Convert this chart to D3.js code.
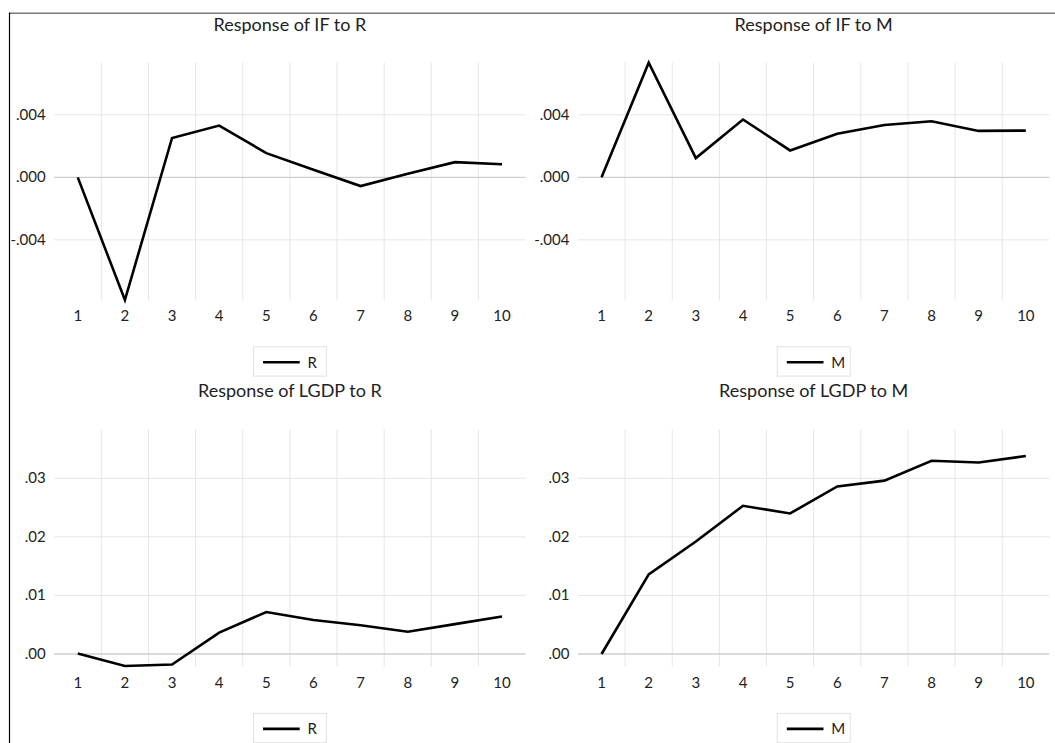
<!DOCTYPE html>
<html>
<head>
<meta charset="utf-8">
<script src="https://cdn.jsdelivr.net/npm/d3@7"></script>
<style>
  html, body { margin: 0; padding: 0; background: #fff; }
  svg { display: block; }
  text { font-family: Lato, "Open Sans", sans-serif; fill: #222; }
</style>
</head>
<body>
<svg id="chart" width="1055" height="743"></svg>
<script>
// ---- data ----
const periods = [1, 2, 3, 4, 5, 6, 7, 8, 9, 10];
const ifToR   = [0, -0.00785, 0.00252, 0.00331, 0.00155, 0.00048, -0.00056, 0.00023, 0.00097, 0.00084];
const ifToM   = [0, 0.00733, 0.00123, 0.00370, 0.00172, 0.00279, 0.00335, 0.00359, 0.00297, 0.00299];
const lgdpToR = [0.0001, -0.00205, -0.0018, 0.00364, 0.00717, 0.0058, 0.0049, 0.0038, 0.0051, 0.0064];
const lgdpToM = [0, 0.0136, 0.0192, 0.0253, 0.0240, 0.0286, 0.0296, 0.0330, 0.0327, 0.0338];
const ifTicks = [-0.004, 0, 0.004];
const lgdpTicks = [0, 0.01, 0.02, 0.03];
const ifDomain = [-0.007853, 0.007334];
const lgdpDomain = [-0.002168, 0.03836];
const titles = ["Response of IF to R", "Response of IF to M", "Response of LGDP to R", "Response of LGDP to M"];
const seriesNames = ["R", "M", "R", "M"];

const panels = [
  { title: titles[0], name: seriesNames[0], values: ifToR,   domain: ifDomain,   ticks: ifTicks,   fmt: ".3f", col: 0, row: 0 },
  { title: titles[1], name: seriesNames[1], values: ifToM,   domain: ifDomain,   ticks: ifTicks,   fmt: ".3f", col: 1, row: 0 },
  { title: titles[2], name: seriesNames[2], values: lgdpToR, domain: lgdpDomain, ticks: lgdpTicks, fmt: ".2f", col: 0, row: 1 },
  { title: titles[3], name: seriesNames[3], values: lgdpToM, domain: lgdpDomain, ticks: lgdpTicks, fmt: ".2f", col: 1, row: 1 }
];

// ---- layout ----
const colLeft = [54.2, 578];
const plotW = 471.4;
const rowTop = [62.7, 429.3];
const plotH = 237.4;

const svg = d3.select("#chart");
const locale = d3.formatLocale({ decimal: ".", thousands: ",", grouping: [3], currency: ["", ""], minus: "-" });

// outer frame
svg.append("line").attr("x1", 9).attr("x2", 1055).attr("y1", 13.2).attr("y2", 13.2)
  .attr("stroke", "#7a7a7a").attr("stroke-width", 1.6);
svg.append("line").attr("x1", 9.5).attr("x2", 9.5).attr("y1", 12.5).attr("y2", 743)
  .attr("stroke", "#000").attr("stroke-width", 1.2);

panels.forEach(p => {
  const left = colLeft[p.col], top = rowTop[p.row];
  const right = left + plotW, bottom = top + plotH;
  const g = svg.append("g");

  const x = d3.scaleBand().domain(periods).range([left, right]);
  const y = d3.scaleLinear().domain(p.domain).range([bottom, top]);
  const cx = d => x(d) + x.bandwidth() / 2;

  // vertical gridlines between categories
  g.selectAll(".vg").data(periods.slice(1)).join("line")
    .attr("x1", d => x(d)).attr("x2", d => x(d))
    .attr("y1", top).attr("y2", bottom)
    .attr("stroke", "#e6e6e6").attr("stroke-width", 1);

  // horizontal gridlines
  g.selectAll(".hg").data(p.ticks).join("line")
    .attr("x1", left).attr("x2", right)
    .attr("y1", d => y(d)).attr("y2", d => y(d))
    .attr("stroke", d => d === 0 ? "#cfcfcf" : "#e6e6e6").attr("stroke-width", d => d === 0 ? 1.3 : 1);

  // y tick labels
  const f = locale.format(p.fmt);
  const lab = d => f(d).replace(/^(-?)0\./, "$1.");
  g.selectAll(".yl").data(p.ticks).join("text")
    .attr("x", left - 8.6).attr("y", d => y(d) + 5)
    .attr("text-anchor", "end").attr("font-size", 15)
    .text(lab);

  // x tick labels
  g.selectAll(".xl").data(periods).join("text")
    .attr("x", cx).attr("y", bottom + 21.3)
    .attr("text-anchor", "middle").attr("font-size", 15)
    .text(d => d);

  // line
  const line = d3.line().x((d, i) => cx(periods[i])).y(d => y(d));
  g.append("path").datum(p.values)
    .attr("d", line).attr("fill", "none")
    .attr("stroke", "#000").attr("stroke-width", 2.6).attr("stroke-linejoin", "miter");

  // title
  const mid = (left + right) / 2;
  g.append("text").attr("x", mid).attr("y", top - 32)
    .attr("text-anchor", "middle").attr("font-size", 18)
    .text(p.title);

  // legend
  const lx = mid - 36.5, ly = bottom + 46.7;
  g.append("rect").attr("x", lx).attr("y", ly).attr("width", 73).attr("height", 29.3)
    .attr("fill", "#fff").attr("stroke", "#e0e0e0").attr("stroke-width", 1);
  g.append("line").attr("x1", lx + 9.6).attr("x2", lx + 46.3)
    .attr("y1", ly + 15.5).attr("y2", ly + 15.5)
    .attr("stroke", "#000").attr("stroke-width", 2.6);
  g.append("text").attr("x", lx + 54).attr("y", ly + 20.8)
    .attr("font-size", 15).text(p.name);
});
</script>
</body>
</html>
